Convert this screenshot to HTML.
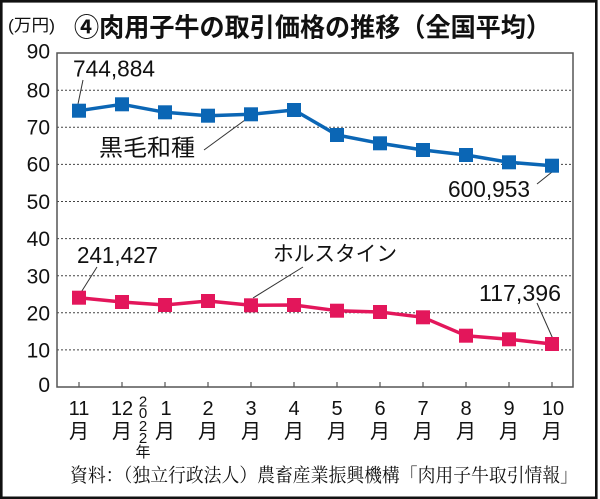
<!DOCTYPE html>
<html><head><meta charset="utf-8">
<style>
html,body{margin:0;padding:0;background:#fff;}
svg{display:block;}
.jp{font-family:"Liberation Sans","Noto Sans CJK JP",sans-serif;}
.num{font-family:"Liberation Sans",sans-serif;}
.serif{font-family:"Liberation Serif","Noto Serif CJK SC",serif;}
</style></head>
<body>
<svg width="600" height="499" viewBox="0 0 600 499" xmlns="http://www.w3.org/2000/svg">
<rect x="0" y="0" width="600" height="499" fill="#fff"/>
<rect x="1.3" y="1.3" width="595" height="496.5" fill="none" stroke="#111" stroke-width="2.6"/>

<!-- title -->
<text class="jp" x="8" y="31" font-size="17" textLength="47" lengthAdjust="spacingAndGlyphs" fill="#111">(万円)</text>
<text class="jp" x="74" y="36.5" font-size="26" font-weight="bold" textLength="477" lengthAdjust="spacingAndGlyphs" fill="#111">④肉用子牛の取引価格の推移（全国平均）</text>

<!-- gridlines -->
<g stroke="#444" stroke-width="1" stroke-dasharray="2,2">
<line x1="57" y1="90.2" x2="573" y2="90.2"/>
<line x1="57" y1="127.3" x2="573" y2="127.3"/>
<line x1="57" y1="164.4" x2="573" y2="164.4"/>
<line x1="57" y1="201.5" x2="573" y2="201.5"/>
<line x1="57" y1="238.6" x2="573" y2="238.6"/>
<line x1="57" y1="275.7" x2="573" y2="275.7"/>
<line x1="57" y1="312.8" x2="573" y2="312.8"/>
<line x1="57" y1="349.9" x2="573" y2="349.9"/>
</g>
<rect x="57" y="53" width="516" height="334" fill="none" stroke="#555" stroke-width="1.5"/>
<g stroke="#555" stroke-width="1.2">
<line x1="79" y1="387" x2="79" y2="382"/><line x1="122" y1="387" x2="122" y2="382"/>
<line x1="165" y1="387" x2="165" y2="382"/><line x1="208" y1="387" x2="208" y2="382"/>
<line x1="251" y1="387" x2="251" y2="382"/><line x1="294" y1="387" x2="294" y2="382"/>
<line x1="337" y1="387" x2="337" y2="382"/><line x1="380" y1="387" x2="380" y2="382"/>
<line x1="423" y1="387" x2="423" y2="382"/><line x1="466" y1="387" x2="466" y2="382"/>
<line x1="509" y1="387" x2="509" y2="382"/><line x1="552" y1="387" x2="552" y2="382"/>
</g>

<!-- y labels -->
<g class="num" font-size="21" text-anchor="end" fill="#111">
<text x="50" y="58.5">90</text>
<text x="50" y="97.5">80</text>
<text x="50" y="134.5">70</text>
<text x="50" y="171.5">60</text>
<text x="50" y="209">50</text>
<text x="50" y="246">40</text>
<text x="50" y="283.5">30</text>
<text x="50" y="320.5">20</text>
<text x="50" y="357.5">10</text>
<text x="50" y="392">0</text>
</g>

<!-- x labels -->
<g class="num" font-size="20" text-anchor="middle" fill="#111">
<text x="79" y="415">11</text><text x="122" y="415">12</text><text x="166" y="415">1</text>
<text x="208" y="415">2</text><text x="251" y="415">3</text><text x="294" y="415">4</text>
<text x="337" y="415">5</text><text x="380" y="415">6</text><text x="423" y="415">7</text>
<text x="466" y="415">8</text><text x="509" y="415">9</text><text x="553" y="415">10</text>
</g>
<g class="jp" font-size="20" text-anchor="middle" fill="#111">
<text x="79" y="438">月</text><text x="122" y="438">月</text><text x="165" y="438">月</text>
<text x="208" y="438">月</text><text x="251" y="438">月</text><text x="294" y="438">月</text>
<text x="337" y="438">月</text><text x="380" y="438">月</text><text x="423" y="438">月</text>
<text x="466" y="438">月</text><text x="509" y="438">月</text><text x="552" y="438">月</text>
</g>
<g class="jp" font-size="15" text-anchor="middle" fill="#111">
<text x="143" y="406.5">2</text>
<text x="143" y="418">0</text>
<text x="143" y="431">2</text>
<text x="143" y="443">2</text>
<text x="143" y="457" font-size="15">年</text>
</g>

<!-- leader lines -->
<g stroke="#333" stroke-width="1" fill="none">
<line x1="83" y1="80" x2="78" y2="104"/>
<line x1="204" y1="150" x2="245" y2="120"/>
<line x1="537" y1="184" x2="552" y2="172"/>
<line x1="97" y1="267" x2="80" y2="294"/>
<line x1="303" y1="267" x2="253" y2="298"/>
<line x1="537" y1="303" x2="553" y2="339"/>
</g>

<!-- series -->
<polyline fill="none" stroke="#0b66b5" stroke-width="3.5" stroke-linejoin="round"
 points="79,110.7 122,104.3 165,112.3 208,115.7 251,114.3 294,110 337,135 380,143.3 423,150 466,155 509,162.3 552,165.7"/>
<g fill="#0b66b5">
<rect x="72" y="103.7" width="14" height="14"/><rect x="115" y="97.3" width="14" height="14"/>
<rect x="158" y="105.3" width="14" height="14"/><rect x="201" y="108.7" width="14" height="14"/>
<rect x="244" y="107.3" width="14" height="14"/><rect x="287" y="103" width="14" height="14"/>
<rect x="330" y="128" width="14" height="14"/><rect x="373" y="136.3" width="14" height="14"/>
<rect x="416" y="143" width="14" height="14"/><rect x="459" y="148" width="14" height="14"/>
<rect x="502" y="155.3" width="14" height="14"/><rect x="545" y="158.7" width="14" height="14"/>
</g>
<polyline fill="none" stroke="#e3165b" stroke-width="3.5" stroke-linejoin="round"
 points="79,297.7 122,302 165,305 208,301 251,305.3 294,305 337,310.7 380,312 423,317.3 466,335.7 509,339.3 552,344"/>
<g fill="#e3165b">
<rect x="72" y="290.7" width="14" height="14"/><rect x="115" y="295" width="14" height="14"/>
<rect x="158" y="298" width="14" height="14"/><rect x="201" y="294" width="14" height="14"/>
<rect x="244" y="298.3" width="14" height="14"/><rect x="287" y="298" width="14" height="14"/>
<rect x="330" y="303.7" width="14" height="14"/><rect x="373" y="305" width="14" height="14"/>
<rect x="416" y="310.3" width="14" height="14"/><rect x="459" y="328.7" width="14" height="14"/>
<rect x="502" y="332.3" width="14" height="14"/><rect x="545" y="337" width="14" height="14"/>
</g>

<!-- annotations -->
<g class="num" font-size="23" fill="#111">
<text x="73" y="76.7" textLength="82" lengthAdjust="spacingAndGlyphs">744,884</text>
<text x="448" y="197" textLength="82" lengthAdjust="spacingAndGlyphs">600,953</text>
<text x="77" y="263" textLength="81" lengthAdjust="spacingAndGlyphs">241,427</text>
<text x="479" y="301" textLength="82" lengthAdjust="spacingAndGlyphs">117,396</text>
</g>
<text class="jp" x="99" y="155.5" font-size="23" textLength="96" lengthAdjust="spacingAndGlyphs" fill="#111">黒毛和種</text>
<text class="jp" x="273" y="261" font-size="21" textLength="124" lengthAdjust="spacingAndGlyphs" fill="#111">ホルスタイン</text>

<!-- source -->
<text class="serif" x="70" y="481.5" font-size="19" textLength="508" lengthAdjust="spacingAndGlyphs" fill="#111">資料：（独立行政法人）農畜産業振興機構「肉用子牛取引情報」</text>
</svg>
</body></html>
